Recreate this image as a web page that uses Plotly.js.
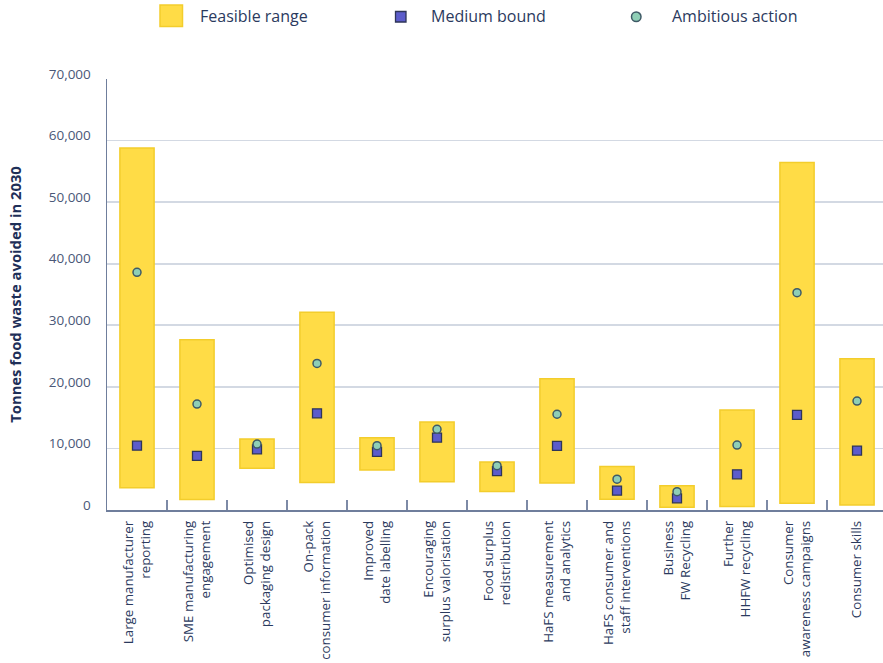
<!DOCTYPE html>
<html>
<head>
<meta charset="utf-8">
<script src="https://cdn.plot.ly/plotly-3.0.1.min.js"></script>
<style>
html,body{margin:0;padding:0;background:#fff;}
#chart{width:883px;height:663px;}
</style>
</head>
<body>
<div id="chart"></div>
<script>
const categories = [
  "Large manufacturer<br>reporting",
  "SME manufacturing<br>engagement",
  "Optimised<br>packaging design",
  "On-pack<br>consumer information",
  "Improved<br>date labelling",
  "Encouraging<br>surplus valorisation",
  "Food surplus<br>redistribution",
  "HaFS measurement<br>and analytics",
  "HaFS consumer and<br>staff interventions",
  "Business<br>FW Recycling",
  "Further<br>HHFW recycling",
  "Consumer<br>awareness campaigns",
  "Consumer skills"
];
const rangeLow  = [3600, 1700, 6800, 4450, 6500, 4600, 3000, 4400, 1750, 450, 550, 1100, 800];
const rangeHigh = [58800, 27650, 11550, 32100, 11750, 14300, 7800, 21300, 7050, 3950, 16250, 56450, 24550];
const mediumBound = [10450, 8800, 9850, 15700, 9450, 11750, 6330, 10400, 3150, 1900, 5800, 15450, 9650];
const ambitiousAction = [38600, 17200, 10700, 23800, 10450, 13100, 7200, 15550, 5000, 2980, 10550, 35300, 17700];
const seriesNames = ["Feasible range", "Medium bound", "Ambitious action"];
const yTitle = "Tonnes food waste avoided in 2030";

const navy = "#2b3a5e";
const yellow = "#FFDC46";
const yellowLine = "#F3CD2C";
const mediumFill = "#5C5CCB";
const mediumLine = "#2E3558";
const ambFill = "#8FCFB6";
const ambLine = "#3E5A66";

const traces = [
  {
    type: "bar",
    name: seriesNames[0],
    x: categories,
    y: rangeHigh.map((h, i) => h - rangeLow[i]),
    base: rangeLow,
    width: 0.57,
    marker: {color: yellow, line: {color: yellowLine, width: 1.5}},
    hoverinfo: "skip"
  },
  {
    type: "scatter",
    mode: "markers",
    name: seriesNames[1],
    x: categories,
    y: mediumBound,
    marker: {symbol: "square", size: 9, color: mediumFill, line: {color: mediumLine, width: 1.3}}
  },
  {
    type: "scatter",
    mode: "markers",
    name: seriesNames[2],
    x: categories,
    y: ambitiousAction,
    marker: {symbol: "circle", size: 8, color: ambFill, line: {color: ambLine, width: 1.5}}
  }
];

// legend drawn manually at top
const W = 883, H = 663, L = 107, R = 0, T = 79, B = 153;
const pw = W - L - R, ph = H - T - B;
function px(x){ return (x - L) / pw; }
function py(y){ return (H - B - y) / ph; }
const shapes = [];
shapes.push({type: "rect", xref: "paper", yref: "paper", x0: px(160), x1: px(182.5), y0: py(26.5), y1: py(5),
  fillcolor: yellow, line: {color: yellowLine, width: 1.5}});
shapes.push({type: "rect", xref: "paper", yref: "paper", x0: px(395.5), x1: px(406), y0: py(22), y1: py(11.5),
  fillcolor: mediumFill, line: {color: mediumLine, width: 1.3}});
shapes.push({type: "circle", xref: "paper", yref: "paper", x0: px(631.5), x1: px(641), y0: py(21.5), y1: py(12),
  fillcolor: ambFill, line: {color: ambLine, width: 1.5}});
const legX = [198, 429, 670];
const annotations = seriesNames.map((n, i) => ({
  xref: "paper", yref: "paper", x: px(legX[i]), y: py(16), xanchor: "left", yanchor: "middle",
  text: n, showarrow: false, font: {family: "Open Sans", size: 16, color: navy}
}));

const layout = {
  width: W, height: H,
  margin: {l: L, r: R, t: T, b: B},
  paper_bgcolor: "#fff", plot_bgcolor: "#fff",
  showlegend: false,
  font: {family: "Open Sans", color: navy},
  xaxis: {
    type: "category",
    range: [-0.5, 12.433],
    tickson: "boundaries",
    ticks: "inside", ticklen: 10, tickwidth: 1.3, tickcolor: "#7d8aa6",
    showgrid: false,
    showline: true, linecolor: "#6f7e9c", linewidth: 1.5,
    tickangle: -90,
    ticklabelstandoff: 4,
    tickfont: {family: "Open Sans", size: 13.3, color: navy},
    automargin: false
  },
  yaxis: {
    range: [0, 70000],
    dtick: 10000,
    tickformat: ",d",
    showgrid: true, gridcolor: "#d3d9e3", gridwidth: 1.6,
    zeroline: false,
    showline: true, linecolor: "#6f7e9c", linewidth: 1.5,
    ticks: "", ticklabelshift: -5, ticklabelstandoff: 12,
    tickfont: {family: "Open Sans", size: 13.5, color: "#4a5878"},
    title: {text: yTitle, font: {family: "Open Sans", size: 14.8, color: "#1e2f58", weight: "bold"}, standoff: 23},
    automargin: false
  },
  shapes: shapes,
  annotations: annotations
};

Plotly.newPlot("chart", traces, layout, {displayModeBar: false, staticPlot: true});
</script>
</body>
</html>
